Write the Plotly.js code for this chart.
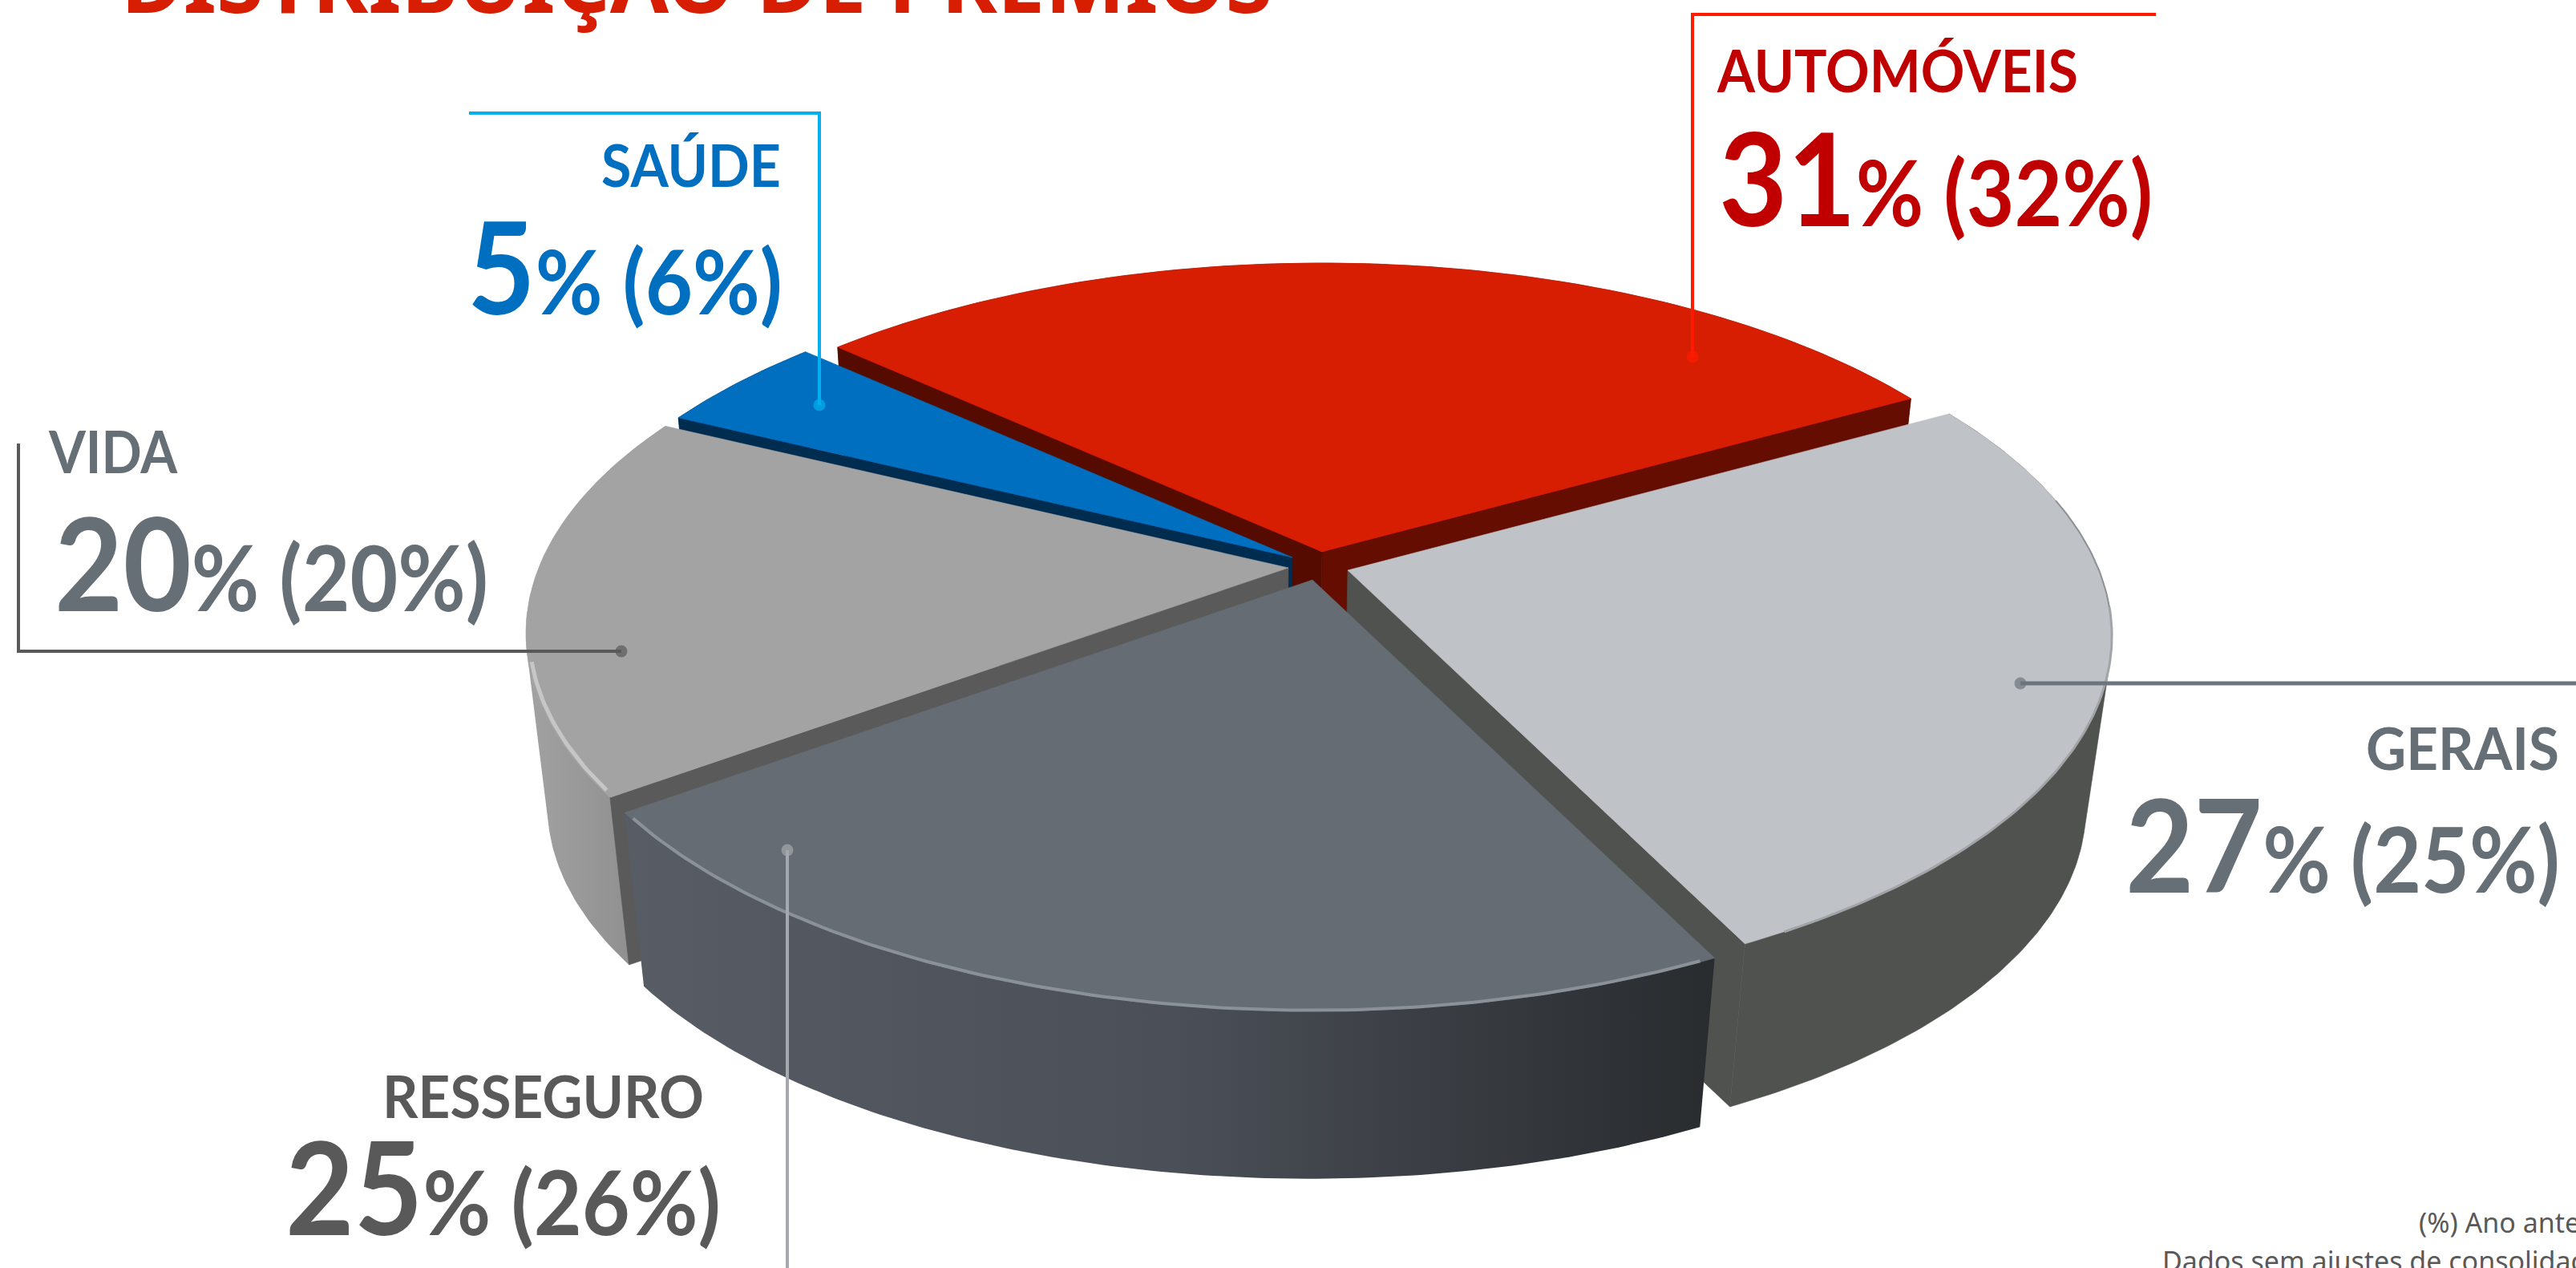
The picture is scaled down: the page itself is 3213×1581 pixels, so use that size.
<!DOCTYPE html>
<html lang="pt">
<head>
<meta charset="utf-8">
<title>Distribuição de Prémios</title>
<script src="https://cdn.plot.ly/plotly-3.0.1.min.js"></script>
<style>html,body{margin:0;padding:0;background:#fff;overflow:hidden}#chart{width:3213px;height:1581px}</style>
</head>
<body>
<div id="chart"></div>
<script>
// ---- data ----
const categories = ['AUTOMÓVEIS', 'SAÚDE', 'VIDA', 'RESSEGURO', 'GERAIS'];
const currentYear = [31, 5, 20, 25, 27];
const priorYear = [32, 6, 20, 26, 25];
const drawnShareOfCircle = [30.1, 4.5, 17.3, 22.25, 25.85];
const titleText = 'DISTRIBUIÇÃO DE PRÉMIOS';
const noteLines = ['(%) Ano anterior', 'Dados sem ajustes de consolidação'];

// ---- drawing set-up ----
const startDeg = 29.3;
const W = 3213, H = 1581;
const view = {a: 969, b: 449, k: 0.189, s: 0.97, vx: 1550, vy: 7950};
const styleFor = {
  0: {c: [1649, 688], R: 0.945, depth: 1, top: '#d71e03', wall: '#640d00', faces: [[0, '#640d00'], [1, '#550b00']]},
  1: {c: [1612, 695], R: 0.950, depth: 1, top: '#006fc0', wall: '#002c50', faces: [[1, '#002c50']]},
  2: {c: [1607, 708], R: 0.965, depth: 1, top: '#a3a3a3', wall: ['#a2a2a2', '#878787'], faces: [[1, '#5a5a5a']]},
  3: {c: [1637, 723], R: 0.977, depth: 1.04, top: '#656c73', wall: ['#575c65', '#4b4f57', '#282c2f'], faces: []},
  4: {c: [1681, 711], R: 0.967, depth: 1, top: '#bfc2c7', wall: '#50524f', faces: [[0, '#50524f']]}
};
// paint order: back to front (categories index)
const paintOrder = [0, 1, 2, 4, 3];

function project(c, R, deg) {
  const t = deg * Math.PI / 180, X = R * Math.cos(t), Y = R * Math.sin(t), w = 1 + view.k * Y;
  return [c[0] + view.a * X / w, c[1] - view.b * Y / w];
}
function drop(p, depth) {
  return [p[0] + (view.vx - p[0]) * (1 - view.s) * depth, p[1] + (view.vy - p[1]) * (1 - view.s) * depth];
}
function arc(c, R, a0, a1) {
  const pts = [], n = Math.max(8, Math.ceil(Math.abs(a1 - a0) * 1.5));
  for (let i = 0; i <= n; i++) pts.push(project(c, R, a0 + (a1 - a0) * i / n));
  return pts;
}
function hull(points) {
  const p = points.slice().sort((a, b) => a[0] - b[0] || a[1] - b[1]);
  const cross = (o, a, b) => (a[0] - o[0]) * (b[1] - o[1]) - (a[1] - o[1]) * (b[0] - o[0]);
  const lo = [], up = [];
  p.forEach(q => { while (lo.length > 1 && cross(lo[lo.length - 2], lo[lo.length - 1], q) <= 0) lo.pop(); lo.push(q); });
  p.slice().reverse().forEach(q => { while (up.length > 1 && cross(up[up.length - 2], up[up.length - 1], q) <= 0) up.pop(); up.push(q); });
  return lo.slice(0, -1).concat(up.slice(0, -1));
}
function polyTrace(pts, color, name) {
  const tr = {
    type: 'scatter', mode: 'lines', name, hoverinfo: 'skip', showlegend: false,
    x: pts.map(p => p[0]).concat(pts[0][0]), y: pts.map(p => p[1]).concat(pts[0][1]),
    fill: 'toself', line: {width: 0.6, color: Array.isArray(color) ? color[0] : color}
  };
  if (Array.isArray(color)) {
    tr.fillgradient = {type: 'horizontal',
      colorscale: color.map((col, i) => [i / (color.length - 1), col])};
    tr.line.width = 0;
  } else tr.fillcolor = color;
  return tr;
}
function rimTrace(c, R, a0, a1, color, width, name) {
  const pts = arc(c, R, a0, a1);
  return {type: 'scatter', mode: 'lines', name, hoverinfo: 'skip', showlegend: false,
    x: pts.map(p => p[0]), y: pts.map(p => p[1]), line: {color, width}};
}

const total = drawnShareOfCircle.reduce((s, v) => s + v, 0);
const bounds = [];
let acc = startDeg;
drawnShareOfCircle.forEach(v => { const span = v / total * 360; bounds.push([acc, acc + span]); acc += span; });

const traces = [];
paintOrder.forEach(i => {
  const st = styleFor[i], [a0, a1] = bounds[i], name = categories[i];
  const top = arc(st.c, st.R, a0, a1);
  const bottom = top.map(p => drop(p, st.depth));
  traces.push(polyTrace(hull(top.concat(bottom)), st.wall, name + ' parede'));
  st.faces.forEach(([end, col]) => {
    const corner = project(st.c, st.R, end ? a1 : a0);
    traces.push(polyTrace([st.c, corner, drop(corner, st.depth), drop(st.c, st.depth)], col, name + ' corte'));
  });
  traces.push(polyTrace([st.c].concat(top), st.top, name));
});
// rim highlights
traces.push(rimTrace(styleFor[2].c, styleFor[2].R - 0.004, 195, bounds[2][1] - 1, '#c6c6c6', 5, 'VIDA aro'));
traces.push(rimTrace(styleFor[3].c, styleFor[3].R - 0.002, bounds[3][0] + 1, bounds[3][1] - 1, '#8b9199', 4, 'RESSEGURO aro'));
traces.push(rimTrace(styleFor[4].c, styleFor[4].R, bounds[4][0] + 3, 360 - 6, '#a2a5a8', 3, 'GERAIS aro'));
traces.push(rimTrace(styleFor[4].c, styleFor[4].R, 360 - 6, 360 + 12, '#8f9295', 2, 'GERAIS aro topo'));

// leader lines
function leader(pts, color, width, name) {
  return {type: 'scatter', mode: 'lines+markers', name, hoverinfo: 'skip', showlegend: false,
    x: pts.map(p => p[0]), y: pts.map(p => p[1]),
    line: {color, width}, marker: {color, size: pts.map((p, i) => i === pts.length - 1 ? 15 : 0), line: {width: 0}}};
}
traces.push(leader([[585, 141], [1022, 141], [1022, 505]], '#00b0f0', 4, 'SAÚDE linha'));
traces.push(leader([[23, 553], [23, 812], [775, 812]], '#595959', 4, 'VIDA linha'));
traces.push(leader([[2689, 18], [2111, 18], [2111, 445]], '#ff1a00', 4, 'AUTOMÓVEIS linha'));
traces.push(leader([[3213, 852], [2520, 852]], '#6c757d', 5, 'GERAIS linha'));
traces.push(leader([[982, 1581], [982, 1060]], '#a5a9ae', 4, 'RESSEGURO linha'));

const MAIN = 'Lato, "Liberation Sans", sans-serif';
const NOTE = '"Noto Sans", sans-serif';
const labelSpec = [
  {i: 0, name: [2141, 2592], ny: 115, val: [2144, 2685], vy: 281, col: '#c00000'},
  {i: 1, name: [750, 974], ny: 233, val: [583, 976], vy: 391, col: '#006fc0'},
  {i: 2, name: [60, 222], ny: 590, val: [68, 609], vy: 761, col: '#666e76'},
  {i: 3, name: [477, 878], ny: 1394, val: [356, 899], vy: 1539, col: '#595959'},
  {i: 4, name: [2951, 3192], ny: 960, val: [2651, 3193], vy: 1112, col: '#666e76'}
];
const annotations = [], fits = [];
function addText(x, y, yanchor, text, font, fit) {
  annotations.push({xref: 'x', yref: 'y', x, y, xanchor: 'left', yanchor, showarrow: false, borderpad: 0, text, font});
  fits.push(fit);
}
labelSpec.forEach(l => {
  addText(l.name[0], l.ny + 16, 'bottom', '<b>' + categories[l.i] + '</b>', {family: MAIN, size: 72, color: l.col}, l.name);
  addText(l.val[0], l.vy + 36, 'bottom',
    '<span style="font-size:160px"><b>' + currentYear[l.i] + '</b></span><b>% (' + priorYear[l.i] + '%)</b>',
    {family: MAIN, size: 112, color: l.col}, l.val);
});
addText(155, 48, 'bottom', '<b>' + titleText + '</b>', {family: NOTE, size: 106, color: '#d71e03'}, [151, 1587]);
addText(3016, 1548, 'bottom', noteLines[0], {family: NOTE, size: 34, color: '#595959'}, null);
addText(2696, 1548, 'top', noteLines[1], {family: NOTE, size: 34, color: '#595959'}, null);

const hidden = {visible: false, fixedrange: true};
Plotly.newPlot('chart', traces, {
  width: W, height: H, margin: {l: 0, r: 0, t: 0, b: 0},
  paper_bgcolor: '#ffffff', plot_bgcolor: '#ffffff', showlegend: false,
  xaxis: Object.assign({range: [0, W]}, hidden),
  yaxis: Object.assign({range: [H, 0]}, hidden),
  annotations
}, {staticPlot: true, displayModeBar: false}).then(() => {
  // squeeze each label horizontally to the width it has in the reference
  document.querySelectorAll('#chart .annotation').forEach((g, n) => {
    const fit = fits[n], t = g.querySelector('text');
    if (!fit || !t) return;
    const r = t.getBoundingClientRect(), bb = t.getBBox(), sx = (fit[1] - fit[0]) / r.width;
    t.setAttribute('transform', `translate(${bb.x + fit[0] - r.left},0) scale(${sx},1) translate(${-bb.x},0)`);
  });
});
</script>
</body>
</html>
